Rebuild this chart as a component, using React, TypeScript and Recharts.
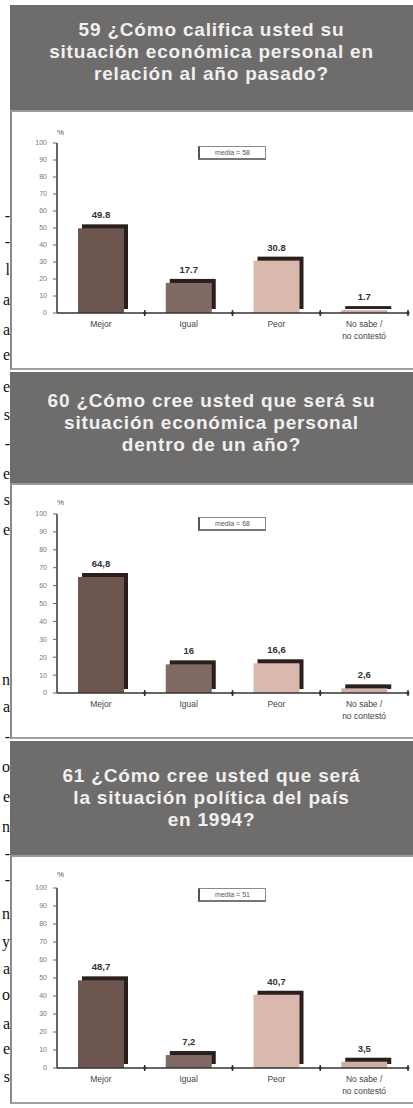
import React from "react";
import { BarChart, Bar, XAxis, YAxis, LabelList } from "recharts";

const categories = ["Mejor", "Igual", "Peor", "No sabe / no contestó"];
const yTicks = [0, 10, 20, 30, 40, 50, 60, 70, 80, 90, 100];
const barColors = ["#6d5550", "#806a63", "#d9b9ae", "#d0b0a6"];

const q59Title = ["59 ¿Cómo califica usted su", "situación económica personal en", "relación al año pasado?"];
const q59Values = [49.8, 17.7, 30.8, 1.7];
const q59Media = 58;

const q60Title = ["60 ¿Cómo cree usted que será su", "situación económica personal", "dentro de un año?"];
const q60Values = [64.8, 16, 16.6, 2.6];
const q60Media = 68;

const q61Title = ["61 ¿Cómo cree usted que será", "la situación política del país", "en 1994?"];
const q61Values = [48.7, 7.2, 40.7, 3.5];
const q61Media = 51;

// bits of the facing book page that show at the left edge
const pageBits = [
  { ch: "-", top: 207 }, { ch: "-", top: 233 }, { ch: "l", top: 261 }, { ch: "a", top: 291 },
  { ch: "a", top: 321 }, { ch: "e", top: 346 }, { ch: "e", top: 378 }, { ch: "s", top: 406 },
  { ch: "-", top: 435 }, { ch: "e", top: 465 }, { ch: "s", top: 491 }, { ch: "e", top: 521 },
  { ch: "n", top: 671 }, { ch: "a", top: 698 }, { ch: "-", top: 728 }, { ch: "o", top: 758 },
  { ch: "e", top: 788 }, { ch: "n", top: 818 }, { ch: "-", top: 845 }, { ch: "-", top: 871 },
  { ch: "n", top: 905 }, { ch: "y", top: 933 }, { ch: "a", top: 960 }, { ch: "o", top: 986 },
  { ch: "a", top: 1015 }, { ch: "e", top: 1040 }, { ch: "s", top: 1068 },
];

const FONT = "'Liberation Sans', Arial, sans-serif";
const CHART_W = 403;
const Y_W = 47;
const RIGHT = 5;
const BAND = (CHART_W - Y_W - RIGHT) / categories.length;

function ShadowBar(props: any) {
  const { x, y, width, height, fill } = props;
  if (width == null) return null;
  return (
    <g>
      <rect x={x + 4} y={y - 4} width={width} height={height} fill="#2a1f1c" />
      <rect x={x} y={y} width={width} height={height} fill={fill} />
    </g>
  );
}

function CategoryTick(props: any) {
  const { x, y, payload } = props;
  const v = String(payload.value);
  const i = v.indexOf("/ ");
  const lines = i >= 0 ? [v.slice(0, i + 1), v.slice(i + 2)] : [v];
  const half = payload.offset != null && payload.offset > 0 ? payload.offset : BAND / 2;
  return (
    <g>
      <line x1={x + half} x2={x + half} y1={y - 3} y2={y + 3} stroke="#333" strokeWidth={1.5} />
      <circle cx={x + half} cy={y} r={1.6} fill="#333" />
      {lines.map((l, k) => (
        <text key={k} x={x} y={y + 14 + k * 12} textAnchor="middle" fontSize={8.5} fill="#444" fontFamily={FONT}>
          {l}
        </text>
      ))}
    </g>
  );
}

type PanelProps = {
  top: number;
  headerH: number;
  titlePad: number;
  chartH: number;
  plotTop: number;
  baseline: number;
  title: string[];
  values: number[];
  media: number;
  comma: boolean;
  pctTop: number;
  mediaTop: number;
};

function Panel(p: PanelProps) {
  const data = categories.map((c, i) => ({ name: c, value: p.values[i], fill: barColors[i] }));
  const fmt = (v: any) => (p.comma ? String(v).replace(".", ",") : String(v));
  return (
    <div style={{ position: "absolute", left: 10, top: p.top, width: CHART_W }}>
      <div
        style={{
          height: p.headerH,
          background: "#6e6d6c",
          color: "#f0f0f0",
          fontFamily: FONT,
          fontWeight: "bold",
          fontSize: 19,
          letterSpacing: 0.8,
          lineHeight: "22px",
          textAlign: "center",
          boxSizing: "border-box",
          paddingTop: p.titlePad,
          borderBottom: "2px solid #9a9a9a",
          whiteSpace: "nowrap",
        }}
      >
        {p.title.map((t, i) => (
          <div key={i}>{t}</div>
        ))}
      </div>
      <div
        style={{
          position: "relative",
          height: p.chartH,
          background: "#fff",
          borderLeft: "2px solid #8a8a8a",
          borderBottom: "2px solid #a0a0a0",
          boxSizing: "border-box",
        }}
      >
        <BarChart
          width={CHART_W - 2}
          height={p.chartH - 2}
          data={data}
          margin={{ top: p.plotTop, right: RIGHT, bottom: 0, left: 0 }}
          barCategoryGap={0}
        >
          <XAxis
            dataKey="name"
            height={p.chartH - 2 - p.baseline}
            axisLine={{ stroke: "#333", strokeWidth: 1.5 }}
            tickLine={false}
            tickSize={0}
            tickMargin={0}
            interval={0}
            tick={<CategoryTick />}
          />
          <YAxis
            width={Y_W - 2}
            domain={[0, 100]}
            ticks={yTicks}
            interval={0}
            axisLine={{ stroke: "#333", strokeWidth: 1.5 }}
            tickLine={{ stroke: "#666" }}
            tickSize={4}
            tickMargin={6}
            tick={{ fontSize: 7, fill: "#777", fontFamily: FONT }}
          />
          <Bar dataKey="value" barSize={46} shape={<ShadowBar />} isAnimationActive={false}>
            <LabelList
              dataKey="value"
              position="top"
              offset={10}
              formatter={fmt}
              style={{ fontSize: 9.5, fontWeight: "bold", fill: "#333", fontFamily: FONT }}
            />
          </Bar>
        </BarChart>
        <div
          style={{
            position: "absolute",
            left: Y_W - 2,
            top: p.pctTop,
            fontSize: 8,
            color: "#555",
            fontFamily: FONT,
          }}
        >
          %
        </div>
        <div
          style={{
            position: "absolute",
            left: 186,
            top: p.mediaTop,
            width: 68,
            height: 14,
            boxSizing: "border-box",
            border: "1px solid #8a8a8a",
            borderLeft: "2px solid #555",
            borderBottom: "2px solid #777",
            fontSize: 7,
            lineHeight: "12px",
            color: "#555",
            textAlign: "center",
            fontFamily: FONT,
          }}
        >
          media = {p.media}
        </div>
      </div>
    </div>
  );
}

export default function App() {
  return (
    <div style={{ position: "absolute", left: 0, top: 0, width: 413, height: 1108, background: "#fff", overflow: "hidden" }}>
      {pageBits.map((b, i) => (
        <div
          key={i}
          style={{
            position: "absolute",
            left: 0,
            top: b.top,
            width: 10,
            textAlign: "right",
            fontFamily: "'Liberation Serif', serif",
            fontSize: 16,
            lineHeight: "18px",
            color: "#111",
          }}
        >
          {b.ch}
        </div>
      ))}
      <Panel
        top={5}
        headerH={107}
        titlePad={14}
        chartH={258}
        plotTop={31}
        baseline={201}
        title={q59Title}
        values={q59Values}
        media={q59Media}
        comma={false}
        pctTop={16}
        mediaTop={34}
      />
      <Panel
        top={372}
        headerH={113}
        titlePad={18}
        chartH={254}
        plotTop={29}
        baseline={208}
        title={q60Title}
        values={q60Values}
        media={q60Media}
        comma={true}
        pctTop={13}
        mediaTop={32}
      />
      <Panel
        top={741}
        headerH={116}
        titlePad={24}
        chartH={247}
        plotTop={31}
        baseline={211}
        title={q61Title}
        values={q61Values}
        media={q61Media}
        comma={true}
        pctTop={13}
        mediaTop={31}
      />
    </div>
  );
}
